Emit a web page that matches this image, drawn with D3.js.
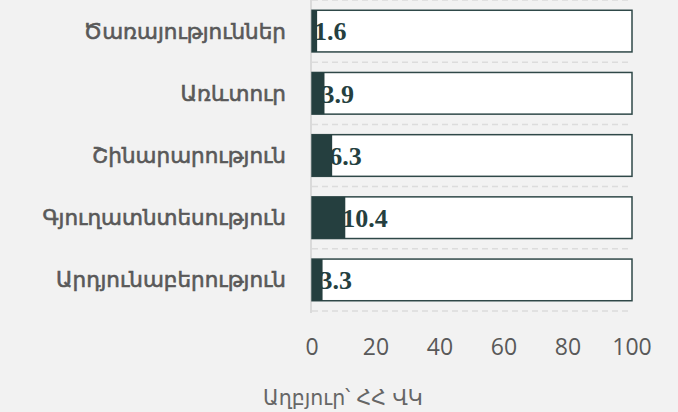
<!DOCTYPE html>
<html>
<head>
<meta charset="utf-8">
<script src="https://cdn.jsdelivr.net/npm/d3@7"></script>
<style>
  body { margin: 0; background: #f2f2f2; }
  svg { display: block; }
</style>
</head>
<body>
<svg id="chart" width="678" height="412"></svg>
<script>
const categories = ["Ծառայություններ", "Առևտուր", "Շինարարություն", "Գյուղատնտեսություն", "Արդյունաբերություն"];
const values = [1.6, 3.9, 6.3, 10.4, 3.3];
const ticks = [0, 20, 40, 60, 80, 100];
const source = "Աղբյուր՝ ՀՀ ՎԿ";

const svg = d3.select("#chart");
const dark = "#253f3f";

const x = d3.scaleLinear().domain([0, 100]).range([312, 632]);
const y = d3.scaleBand().domain(categories).range([0, 311]).paddingInner(0.33).paddingOuter(0.165);

// dashed row separators
const edges = categories.map(c => y(c) - y.step() * y.paddingInner() / 2).concat([311]);
svg.append("g").selectAll("line")
  .data(edges)
  .enter()
  .append("line")
  .attr("x1", 312).attr("x2", 632)
  .attr("y1", d => d).attr("y2", d => d)
  .attr("stroke", "#dcdcdc")
  .attr("stroke-width", 1.5)
  .attr("stroke-dasharray", "6,4");

// axis line
svg.append("line")
  .attr("x1", 311).attr("x2", 311)
  .attr("y1", 0).attr("y2", 313)
  .attr("stroke", "#dadada")
  .attr("stroke-width", 2);

const rows = svg.append("g").selectAll("g")
  .data(categories)
  .enter()
  .append("g");

rows.append("rect")
  .attr("x", x(0))
  .attr("y", d => y(d))
  .attr("width", x(100) - x(0))
  .attr("height", y.bandwidth())
  .attr("fill", "#ffffff")
  .attr("stroke", "#2f4848")
  .attr("stroke-width", 1.5);

rows.append("text")
  .attr("x", (d, i) => x(values[i]) - 3)
  .attr("y", d => y(d) + y.bandwidth() / 2)
  .attr("dy", "0.36em")
  .attr("font-family", "'Liberation Serif', serif")
  .attr("font-weight", "bold")
  .attr("font-size", 26)
  .attr("fill", dark)
  .text((d, i) => values[i]);

rows.append("rect")
  .attr("x", x(0))
  .attr("y", d => y(d))
  .attr("width", (d, i) => x(values[i]) - x(0))
  .attr("height", y.bandwidth())
  .attr("fill", dark);

rows.append("text")
  .attr("x", 286)
  .attr("y", d => y(d) + y.bandwidth() / 2)
  .attr("dy", "0.35em")
  .attr("text-anchor", "end")
  .attr("font-family", "'DejaVu Sans', sans-serif")
  .attr("font-size", 21.5)
  .attr("fill", "#595959")
  .attr("stroke", "#595959")
  .attr("stroke-width", 0.6)
  .text(d => d);

// x tick labels
svg.append("g").selectAll("text")
  .data(ticks)
  .enter()
  .append("text")
  .attr("x", d => x(d))
  .attr("y", 347)
  .attr("dy", "0.35em")
  .attr("text-anchor", "middle")
  .attr("font-family", "'Open Sans', 'Noto Sans', sans-serif")
  .attr("font-size", 23)
  .attr("fill", "#595959")
  .text(d => d);

svg.append("text")
  .attr("x", 263)
  .attr("y", 398)
  .attr("dy", "0.35em")
  .attr("font-family", "'DejaVu Sans', sans-serif")
  .attr("font-size", 20.5)
  .attr("fill", "#666666")
  .text(source);
</script>
</body>
</html>
